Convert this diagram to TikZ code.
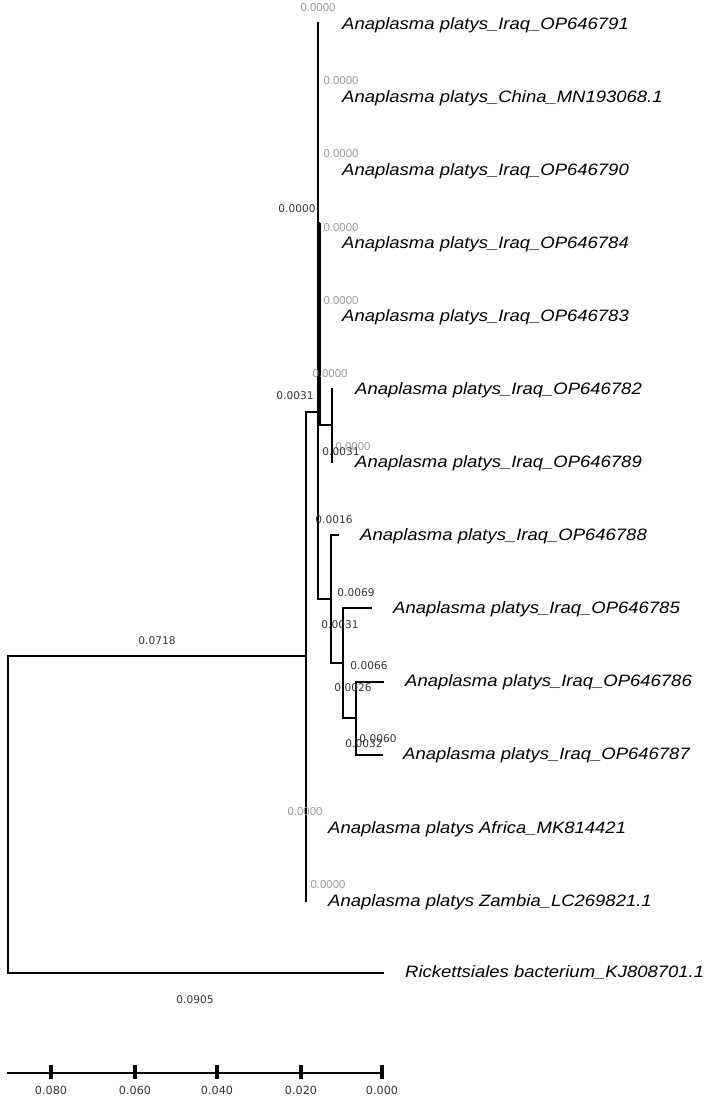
\documentclass[tikz,border=0pt]{standalone}
\usepackage{fontspec}
\newfontfamily\leaffont[FakeStretch=1.12]{Liberation Sans}
\newfontfamily\numfont{DejaVu Sans}
\newfontfamily\grayfont{Liberation Sans}
\definecolor{zerogray}{HTML}{9A9A9A}
\definecolor{numdark}{HTML}{333333}
\tikzset{
  branch/.style={line width=2.8pt, line join=miter},
  leaf/.style={anchor=west, inner sep=0pt, font=\leaffont\itshape\fontsize{16.5}{18}\selectfont},
  zerolab/.style={text=zerogray, inner sep=0pt, font=\grayfont\fontsize{11.4}{12}\selectfont},
  blen/.style={text=numdark, inner sep=0pt, font=\numfont\fontsize{10.6}{12}\selectfont},
  scalelab/.style={text=numdark, inner sep=0pt, font=\numfont\fontsize{11.2}{12}\selectfont},
  tick/.style={line width=3.4pt}
}
\begin{document}
\begin{tikzpicture}[x=1pt,y=-1pt]
\useasboundingbox (0,0) rectangle (713,1102);
% tree coordinates
\coordinate (root) at (8,814);
\coordinate (A) at (306,656);
\coordinate (rick) at (384,973);
\coordinate (B) at (318,412);
\coordinate (zam) at (306,902);
\coordinate (t791) at (318,22);
\coordinate (C) at (320,223);
\coordinate (D) at (332,425);
\coordinate (t782) at (332,388);
\coordinate (t789) at (332,463);
\coordinate (E) at (331,599);
\coordinate (t788) at (339,535);
\coordinate (F) at (343,663);
\coordinate (t785) at (372,608);
\coordinate (G) at (356,718);
\coordinate (t786) at (384,682);
\coordinate (t787) at (383,755);
% branches
\draw[branch] (root) |- (A);
\draw[branch] (root) |- (rick);
\draw[branch] (A) |- (B);
\draw[branch] (A) |- (zam);
\draw[branch] (B) |- (t791);
\draw[branch] (B) |- (C);
\draw[branch] (C) |- (D);
\draw[branch] (B) |- (E);
\draw[branch] (D) |- (t782);
\draw[branch] (D) |- (t789);
\draw[branch] (E) |- (t788);
\draw[branch] (E) |- (F);
\draw[branch] (F) |- (t785);
\draw[branch] (F) |- (G);
\draw[branch] (G) |- (t786);
\draw[branch] (G) |- (t787);
% leaf labels
\node[leaf] (L791) at (342,25) {Anaplasma platys\_Iraq\_OP646791};
\node[leaf] (Lchina) at (342,98) {Anaplasma platys\_China\_MN193068.1};
\node[leaf] (L790) at (342,171) {Anaplasma platys\_Iraq\_OP646790};
\node[leaf] (L784) at (342,244) {Anaplasma platys\_Iraq\_OP646784};
\node[leaf] (L783) at (342,317) {Anaplasma platys\_Iraq\_OP646783};
\node[leaf] (L782) at (355,390) {Anaplasma platys\_Iraq\_OP646782};
\node[leaf] (L789) at (355,463) {Anaplasma platys\_Iraq\_OP646789};
\node[leaf] (L788) at (360,536) {Anaplasma platys\_Iraq\_OP646788};
\node[leaf] (L785) at (393,609) {Anaplasma platys\_Iraq\_OP646785};
\node[leaf] (L786) at (405,682) {Anaplasma platys\_Iraq\_OP646786};
\node[leaf] (L787) at (403,755) {Anaplasma platys\_Iraq\_OP646787};
\node[leaf] (Lafr) at (328,829) {Anaplasma platys Africa\_MK814421};
\node[leaf] (Lzam) at (328,902) {Anaplasma platys Zambia\_LC269821.1};
\node[leaf] (Lrick) at (405,973) {Rickettsiales bacterium\_KJ808701.1};
% zero-length labels
\node[zerolab] (z1) at (318,8) {0.0000};
\node[zerolab] (z2) at (341,81) {0.0000};
\node[zerolab] (z3) at (341,154) {0.0000};
\node[zerolab] (z4) at (341,228) {0.0000};
\node[zerolab] (z5) at (341,301) {0.0000};
\node[zerolab] (z6) at (330,374) {0.0000};
\node[zerolab] (z7) at (353,447) {0.0000};
\node[zerolab] (z8) at (305,812) {0.0000};
\node[zerolab] (z9) at (328,885) {0.0000};
% branch length labels
\node[blen] (b1) at (297,209) {0.0000};
\node[blen] (b2) at (295,396) {0.0031};
\node[blen] (b3) at (341,452) {0.0031};
\node[blen] (b4) at (334,520) {0.0016};
\node[blen] (b5) at (356,593) {0.0069};
\node[blen] (b6) at (340,625) {0.0031};
\node[blen] (b7) at (369,666) {0.0066};
\node[blen] (b8) at (353,688) {0.0026};
\node[blen] (b9) at (378,739) {0.0060};
\node[blen] (b10) at (364,744) {0.0032};
\node[blen] (b11) at (157,641) {0.0718};
\node[blen] (b12) at (195,1000) {0.0905};
% scale bar
\coordinate (s0) at (7,1073);
\coordinate (s5) at (384,1073);
\draw[branch] (s0) -- (s5);
\foreach \x/\lab/\nm in {51/0.080/a,135/0.060/b,217/0.040/c,301/0.020/d,382/0.000/e}{
  \coordinate (tk\nm) at (\x,1073);
  \draw[tick] ([yshift=8pt]tk\nm) -- ([yshift=-6pt]tk\nm);
  \node[scalelab] (sl\nm) at (\x,1090) {\lab};
}
\end{tikzpicture}
\end{document}
